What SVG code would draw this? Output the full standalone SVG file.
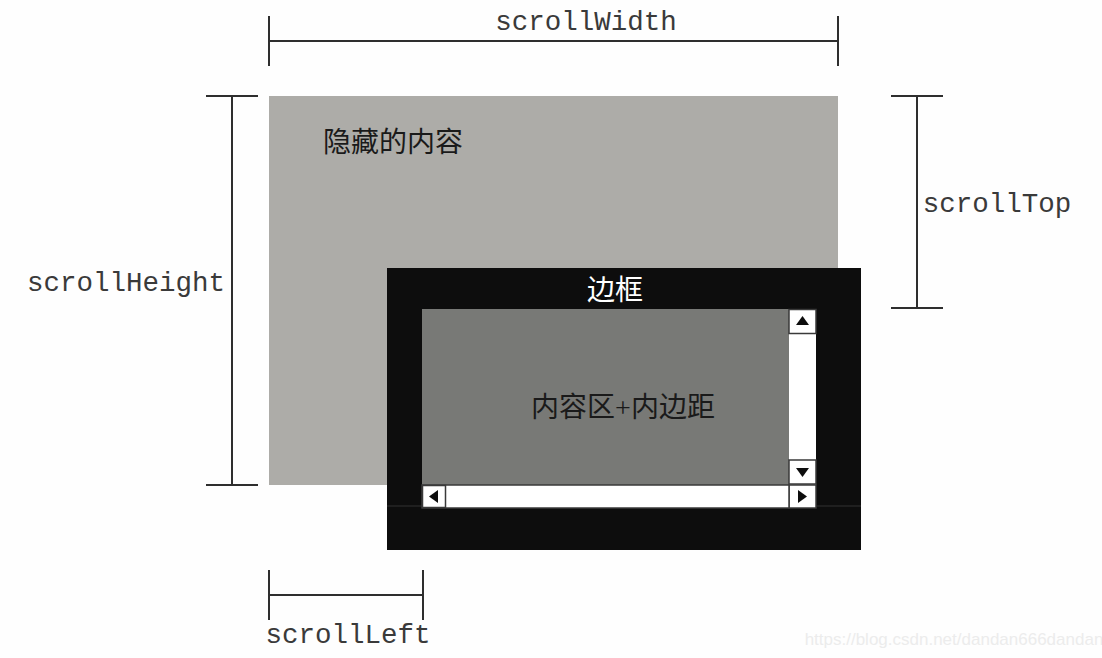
<svg xmlns="http://www.w3.org/2000/svg" width="1102" height="658" viewBox="0 0 1102 658">
<style>
.dim{stroke:#2e2e2e;stroke-width:2;fill:none}
.mono{font-family:"Liberation Mono","DejaVu Sans Mono",monospace;font-size:27.5px;fill:#3a3a3a}
.cjk{font-family:"Liberation Serif","Noto Sans CJK SC",serif;font-size:28px}
.btn{fill:#ffffff;stroke:#3a3a3a;stroke-width:1.5}
.arr{fill:#0d0d0d}
</style>
<rect x="0" y="0" width="1102" height="658" fill="#fefefe"/>
<g id="hidden-content">
<rect x="269" y="96" width="569" height="389" fill="#adaca8"/>
<text class="cjk" x="323" y="152" fill="#1a1a1a">隐藏的内容</text>
</g>
<g id="border-box">
<rect x="387" y="268" width="474" height="282" fill="#0d0d0d"/>
<line x1="387" y1="506" x2="861" y2="506" stroke="#262626" stroke-width="1.5"/>
<text class="cjk" x="615" y="300" fill="#ffffff" text-anchor="middle">边框</text>
</g>
<g id="content-area">
<rect x="422" y="309" width="367" height="176" fill="#787976"/>
<text class="cjk" x="623" y="417" fill="#1a1a1a" text-anchor="middle">内容区+内边距</text>
</g>
<g id="vertical-scrollbar">
<rect x="789" y="309" width="27" height="199" fill="#ffffff"/>
<rect class="btn" x="789" y="309.5" width="27" height="24"/>
<polygon class="arr" points="802.5,316 796,325 809,325"/>
<rect class="btn" x="789" y="460" width="27" height="24"/>
<polygon class="arr" points="796,468 809,468 802.5,477"/>
<rect class="btn" x="789" y="485" width="27" height="23"/>
<polygon class="arr" points="798,490 798,503 807,496.5"/>
</g>
<g id="horizontal-scrollbar">
<rect x="422" y="485" width="367" height="23" fill="#ffffff" stroke="#3a3a3a" stroke-width="1.5"/>
<rect class="btn" x="422.5" y="485.5" width="23" height="22"/>
<polygon class="arr" points="438,490 438,503 429,496.5"/>
</g>
<g id="connectors">
<path class="dim" d="M269,16V66M838,16V66M269,41H838"/>
<path class="dim" d="M206,96H258M206,485H258M232,96V485"/>
<path class="dim" d="M891,96H943M891,308H943M917,96V308"/>
<path class="dim" d="M269,570V620M423,570V620M269,595H423"/>
</g>
<g id="labels">
<text class="mono" x="586" y="30" text-anchor="middle">scrollWidth</text>
<text class="mono" x="126" y="291" text-anchor="middle">scrollHeight</text>
<text class="mono" x="997" y="212" text-anchor="middle">scrollTop</text>
<text class="mono" x="348" y="643" text-anchor="middle">scrollLeft</text>
</g>
<text x="954" y="645" text-anchor="middle" font-family="Liberation Sans, Arial, sans-serif" font-size="17" fill="#ececec">https://blog.csdn.net/dandan666dandan</text>
</svg>
